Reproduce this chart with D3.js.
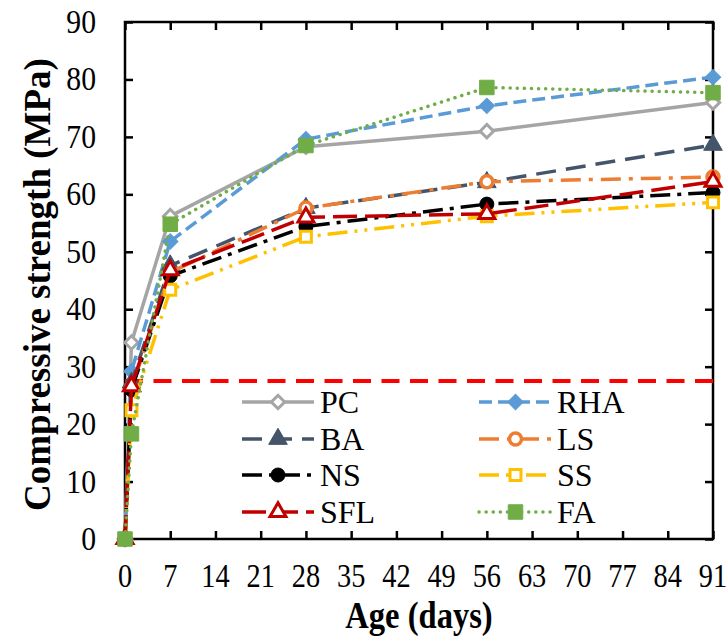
<!DOCTYPE html>
<html>
<head>
<meta charset="utf-8">
<script src="https://cdn.jsdelivr.net/npm/d3@7"></script>
<style>
  body { margin: 0; background: #fff; }
</style>
</head>
<body>
<div id="chart"></div>
<script>
// Compressive strength vs age, one line per binder.

// ages at which the cubes were tested (days)
const days = [0, 1, 7, 28, 56, 91];

// strength values (MPa)
const PC  = [0, 34.2, 56.2, 68.3, 71.0, 76.0];
const RHA = [0, 29.2, 51.8, 69.6, 75.4, 80.4];
const BA  = [0, 27.2, 47.6, 57.6, 62.1, 68.6];
const LS  = [0, 26.2, 46.4, 57.6, 62.2, 63.0];
const NS  = [0, 26.0, 45.8, 54.4, 58.3, 60.3];
const SS  = [0, 22.4, 43.4, 52.6, 56.2, 58.6];
const SFL = [0, 26.6, 46.8, 56.0, 56.6, 62.2];
const FA  = [0, 18.3, 54.8, 68.5, 78.6, 77.7];

// horizontal red dashed reference line
const limitValue = 27.5;

const seriesNames = ["PC", "RHA", "BA", "LS", "NS", "SS", "SFL", "FA"];
const seriesValues = [PC, RHA, BA, LS, NS, SS, SFL, FA];

const xTicks = [0, 7, 14, 21, 28, 35, 42, 49, 56, 63, 70, 77, 84, 91];
const yTicks = [0, 10, 20, 30, 40, 50, 60, 70, 80, 90];

// look of each series
const styles = {
    PC:  { color: "#A5A5A5", dash: null,                 width: 3.5, shape: "diamond",  fill: "white" },
    RHA: { color: "#5B9BD5", dash: "13,6",               width: 3.5, shape: "diamond",  fill: "#5B9BD5" },
    BA:  { color: "#44546A", dash: "20,10",              width: 3.5, shape: "triangle", fill: "#44546A" },
    LS:  { color: "#ED7D31", dash: "20,8,4,8",           width: 3.5, shape: "circle",   fill: "white" },
    NS:  { color: "#000000", dash: "20,7,4,7",           width: 3.5, shape: "circle",   fill: "#000000" },
    SS:  { color: "#FFC000", dash: "20,7,3,7,3,7",       width: 3.5, shape: "square",   fill: "white" },
    SFL: { color: "#C00000", dash: "24,8",               width: 3.5, shape: "triangle", fill: "white" },
    FA:  { color: "#70AD47", dash: "0.1,7",              width: 3.5, shape: "square",   fill: "#70AD47", cap: "round" }
};

const W = 728, H = 640;
const margin = { top: 22, right: 15, bottom: 101, left: 125 };
const innerW = W - margin.left - margin.right;
const innerH = H - margin.top - margin.bottom;
const serif = "Liberation Serif";

const svg = d3.select("#chart").append("svg")
    .attr("width", W)
    .attr("height", H);

const x = d3.scaleLinear().domain([0, 91]).range([margin.left, margin.left + innerW]);
const y = d3.scaleLinear().domain([0, 90]).range([margin.top + innerH, margin.top]);

// inward tick marks on all four sides, labels only left and bottom
const tickLen = 8;
svg.append("g")
    .attr("transform", `translate(0,${y(0)})`)
    .call(d3.axisBottom(x).tickValues(xTicks).tickSize(-tickLen).tickFormat(""))
    .call(g => g.select(".domain").remove());
svg.append("g")
    .attr("transform", `translate(0,${y(90)})`)
    .call(d3.axisTop(x).tickValues(xTicks).tickSize(-tickLen).tickFormat(""))
    .call(g => g.select(".domain").remove());
svg.append("g")
    .attr("transform", `translate(${x(0)},0)`)
    .call(d3.axisLeft(y).tickValues(yTicks).tickSize(-tickLen).tickFormat(""))
    .call(g => g.select(".domain").remove());
svg.append("g")
    .attr("transform", `translate(${x(91)},0)`)
    .call(d3.axisRight(y).tickValues(yTicks).tickSize(-tickLen).tickFormat(""))
    .call(g => g.select(".domain").remove());
svg.selectAll(".tick line").attr("stroke", "#000").attr("stroke-width", 2.5);

// plot frame
svg.append("rect")
    .attr("x", x(0)).attr("y", y(90))
    .attr("width", x(91) - x(0)).attr("height", y(0) - y(90))
    .attr("fill", "none").attr("stroke", "#000").attr("stroke-width", 2.5);

// tick labels
const tickFont = 33;
svg.append("g").selectAll("text")
    .data(xTicks)
    .join("text")
    .attr("transform", d => `translate(${x(d)},587) scale(0.86,1)`)
    .attr("text-anchor", "middle")
    .style("font-family", serif)
    .attr("font-size", tickFont)
    .text(d => d);
svg.append("g").selectAll("text")
    .data(yTicks)
    .join("text")
    .attr("transform", d => `translate(96,${y(d) + 11}) scale(0.9,1)`)
    .attr("text-anchor", "end")
    .style("font-family", serif)
    .attr("font-size", tickFont)
    .text(d => d);

// axis titles
svg.append("text")
    .attr("transform", `translate(${(x(0) + x(91)) / 2},628) scale(0.88,1)`)
    .attr("text-anchor", "middle")
    .style("font-family", serif)
    .attr("font-size", 37)
    .attr("font-weight", "bold")
    .text("Age (days)");
svg.append("text")
    .attr("transform", `translate(50,${(y(0) + y(90)) / 2 + 4}) rotate(-90)`)
    .attr("text-anchor", "middle")
    .style("font-family", serif)
    .attr("font-size", 37)
    .attr("font-weight", "bold")
    .text("Compressive strength (MPa)");

// reference line
svg.append("line")
    .attr("x1", x(0)).attr("x2", x(91))
    .attr("y1", y(limitValue)).attr("y2", y(limitValue))
    .attr("stroke", "#FF0000")
    .attr("stroke-width", 4)
    .attr("stroke-dasharray", "18,10.5");

// marker drawing helper
function drawMarker(g, shape, st, cx, cy) {
    const sw = 3;
    if (shape === "circle") {
        g.append("circle")
            .attr("cx", cx).attr("cy", cy)
            .attr("r", st.fill === "white" ? 6 : 7)
            .attr("fill", st.fill)
            .attr("stroke", st.color)
            .attr("stroke-width", st.fill === "white" ? sw + 0.5 : 1);
    } else {
        let sym, size, rot = 0;
        if (shape === "diamond") { sym = d3.symbolSquare; size = st.fill === "white" ? 90 : 120; rot = 45; }
        if (shape === "square") { sym = d3.symbolSquare; size = st.fill === "white" ? 120 : 210; }
        if (shape === "triangle") { sym = d3.symbolTriangle; size = st.fill === "white" ? 110 : 150; }
        g.append("path")
            .attr("d", d3.symbol().type(sym).size(size)())
            .attr("transform", `translate(${cx},${cy}) rotate(${rot})`)
            .attr("fill", st.fill)
            .attr("stroke", st.color)
            .attr("stroke-width", st.fill === "white" ? sw : 1)
            .attr("stroke-linejoin", "miter");
    }
}

const line = d3.line()
    .x((d, i) => x(days[i]))
    .y(d => y(d));

// series lines and markers
seriesNames.forEach((name, k) => {
    const st = styles[name];
    const g = svg.append("g");
    g.append("path")
        .datum(seriesValues[k])
        .attr("d", line)
        .attr("fill", "none")
        .attr("stroke", st.color)
        .attr("stroke-width", st.width)
        .attr("stroke-dasharray", st.dash)
        .attr("stroke-linecap", st.cap || "butt")
        .attr("stroke-linejoin", "round");
    seriesValues[k].forEach((v, i) => drawMarker(g, st.shape, st, x(days[i]), y(v)));
});

// legend, two columns
const legendRows = [402, 439, 475, 512];
const legendCols = [{ x0: 242, x1: 314, tx: 320 }, { x0: 479, x1: 552, tx: 557 }];
const legend = svg.append("g");
seriesNames.forEach((name, k) => {
    const st = styles[name];
    const col = legendCols[k % 2];
    const ry = legendRows[Math.floor(k / 2)];
    legend.append("line")
        .attr("x1", col.x0).attr("x2", col.x1)
        .attr("y1", ry).attr("y2", ry)
        .attr("stroke", st.color)
        .attr("stroke-width", st.width)
        .attr("stroke-dasharray", st.dash)
        .attr("stroke-linecap", st.cap || "butt");
    drawMarker(legend, st.shape, st, (col.x0 + col.x1) / 2, ry);
    legend.append("text")
        .attr("x", col.tx).attr("y", ry + 11)
        .style("font-family", serif)
        .attr("font-size", 32)
        .text(name);
});
</script>
</body>
</html>
